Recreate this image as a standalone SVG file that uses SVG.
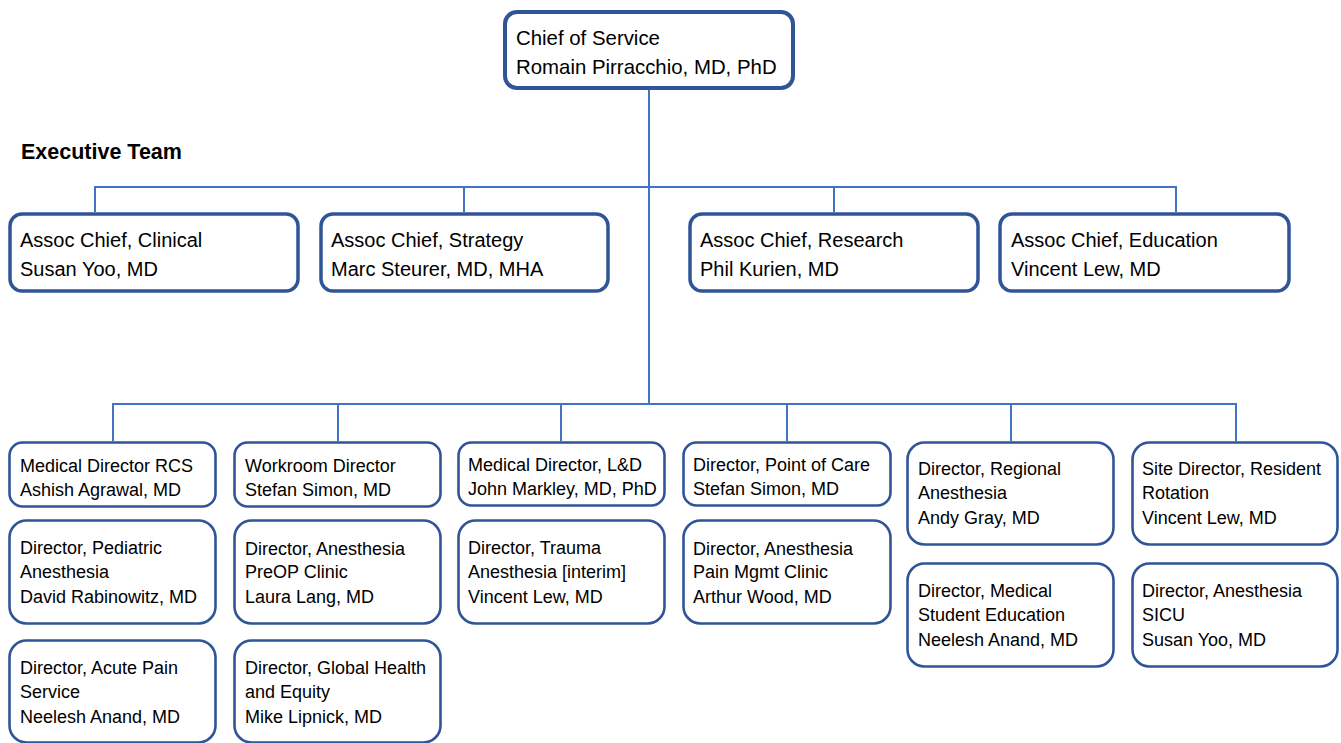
<svg xmlns="http://www.w3.org/2000/svg" width="1341" height="743" viewBox="0 0 1341 743">
<style>
.bg{fill:#ffffff}
.chief{fill:#fff;stroke:#2F5597;stroke-width:4}
.exec{fill:#fff;stroke:#2F5597;stroke-width:3.5}
.dir{fill:#fff;stroke:#2F5597;stroke-width:2.6}
.ln{fill:none;stroke:#4472C4;stroke-width:2}
.t20{font-family:"Liberation Sans",Arial,sans-serif;font-size:20px;fill:#000}
.t18{font-family:"Liberation Sans",Arial,sans-serif;font-size:18px;fill:#000}
.tb{font-family:"Liberation Sans",Arial,sans-serif;font-size:21.5px;font-weight:bold;fill:#000}
</style>
<rect class="bg" x="0" y="0" width="1341" height="743"/>
<g id="connectors">
<path class="ln" d="M649 90 V404"/>
<path class="ln" d="M95 212 V187 H1176 V212"/>
<path class="ln" d="M464 187 V212"/>
<path class="ln" d="M834 187 V212"/>
<path class="ln" d="M113 441 V404 H1236 V441"/>
<path class="ln" d="M338 404 V441"/>
<path class="ln" d="M561 404 V441"/>
<path class="ln" d="M787 404 V441"/>
<path class="ln" d="M1011 404 V441"/>
</g>
<g id="chief">
<rect class="chief" x="505" y="12" width="288" height="76" rx="12"/>
<text class="t20" x="516" y="45" style="font-size:20.4px">Chief of Service</text>
<text class="t20" x="516" y="74" style="font-size:20.4px">Romain Pirracchio, MD, PhD</text>
</g>
<text class="tb" x="21" y="159">Executive Team</text>
<g id="exec-clinical">
<rect class="exec" x="10" y="214" width="288" height="77" rx="12"/>
<text class="t20" x="20" y="247">Assoc Chief, Clinical</text>
<text class="t20" x="20" y="276">Susan Yoo, MD</text>
</g>
<g id="exec-strategy">
<rect class="exec" x="321" y="214" width="287" height="77" rx="12"/>
<text class="t20" x="331" y="247">Assoc Chief, Strategy</text>
<text class="t20" x="331" y="276">Marc Steurer, MD, MHA</text>
</g>
<g id="exec-research">
<rect class="exec" x="690" y="214" width="288" height="77" rx="12"/>
<text class="t20" x="700" y="247">Assoc Chief, Research</text>
<text class="t20" x="700" y="276">Phil Kurien, MD</text>
</g>
<g id="exec-education">
<rect class="exec" x="1000" y="214" width="289" height="77" rx="12"/>
<text class="t20" x="1011" y="247">Assoc Chief, Education</text>
<text class="t20" x="1011" y="276">Vincent Lew, MD</text>
</g>
<g id="rcs">
<rect class="dir" x="9.5" y="442.5" width="206" height="64" rx="13"/>
<text class="t18" x="20" y="472">Medical Director RCS</text>
<text class="t18" x="20" y="496">Ashish Agrawal, MD</text>
</g>
<g id="pediatric">
<rect class="dir" x="9.5" y="520.5" width="206" height="103" rx="17"/>
<text class="t18" x="20" y="554">Director, Pediatric</text>
<text class="t18" x="20" y="578">Anesthesia</text>
<text class="t18" x="20" y="603">David Rabinowitz, MD</text>
</g>
<g id="acutepain">
<rect class="dir" x="9.5" y="640.5" width="206" height="102" rx="17"/>
<text class="t18" x="20" y="674">Director, Acute Pain</text>
<text class="t18" x="20" y="698">Service</text>
<text class="t18" x="20" y="723">Neelesh Anand, MD</text>
</g>
<g id="workroom">
<rect class="dir" x="234.5" y="442.5" width="206" height="64" rx="13"/>
<text class="t18" x="245" y="472">Workroom Director</text>
<text class="t18" x="245" y="496">Stefan Simon, MD</text>
</g>
<g id="preop">
<rect class="dir" x="234.5" y="520.5" width="206" height="103" rx="17"/>
<text class="t18" x="245" y="555">Director, Anesthesia</text>
<text class="t18" x="245" y="578">PreOP Clinic</text>
<text class="t18" x="245" y="603">Laura Lang, MD</text>
</g>
<g id="globalhealth">
<rect class="dir" x="234.5" y="640.5" width="206" height="102" rx="17"/>
<text class="t18" x="245" y="674">Director, Global Health</text>
<text class="t18" x="245" y="698">and Equity</text>
<text class="t18" x="245" y="723">Mike Lipnick, MD</text>
</g>
<g id="ld">
<rect class="dir" x="458.5" y="442.5" width="206" height="63" rx="13"/>
<text class="t18" x="468" y="471">Medical Director, L&amp;D</text>
<text class="t18" x="468" y="495">John Markley, MD, PhD</text>
</g>
<g id="trauma">
<rect class="dir" x="458.5" y="520.5" width="206" height="103" rx="17"/>
<text class="t18" x="468" y="554">Director, Trauma</text>
<text class="t18" x="468" y="578">Anesthesia [interim]</text>
<text class="t18" x="468" y="603">Vincent Lew, MD</text>
</g>
<g id="poc">
<rect class="dir" x="683.5" y="442.5" width="207" height="63" rx="13"/>
<text class="t18" x="693" y="471">Director, Point of Care</text>
<text class="t18" x="693" y="495">Stefan Simon, MD</text>
</g>
<g id="painmgmt">
<rect class="dir" x="683.5" y="520.5" width="207" height="103" rx="17"/>
<text class="t18" x="693" y="555">Director, Anesthesia</text>
<text class="t18" x="693" y="578">Pain Mgmt Clinic</text>
<text class="t18" x="693" y="603">Arthur Wood, MD</text>
</g>
<g id="regional">
<rect class="dir" x="907.5" y="442.5" width="206" height="102" rx="17"/>
<text class="t18" x="918" y="475">Director, Regional</text>
<text class="t18" x="918" y="499">Anesthesia</text>
<text class="t18" x="918" y="524">Andy Gray, MD</text>
</g>
<g id="medstudent">
<rect class="dir" x="907.5" y="563.5" width="206" height="103" rx="17"/>
<text class="t18" x="918" y="597">Director, Medical</text>
<text class="t18" x="918" y="621">Student Education</text>
<text class="t18" x="918" y="646">Neelesh Anand, MD</text>
</g>
<g id="resident">
<rect class="dir" x="1132.5" y="442.5" width="205" height="102" rx="17"/>
<text class="t18" x="1142" y="475">Site Director, Resident</text>
<text class="t18" x="1142" y="499">Rotation</text>
<text class="t18" x="1142" y="524">Vincent Lew, MD</text>
</g>
<g id="sicu">
<rect class="dir" x="1132.5" y="563.5" width="205" height="103" rx="17"/>
<text class="t18" x="1142" y="597">Director, Anesthesia</text>
<text class="t18" x="1142" y="621">SICU</text>
<text class="t18" x="1142" y="646">Susan Yoo, MD</text>
</g>
</svg>
